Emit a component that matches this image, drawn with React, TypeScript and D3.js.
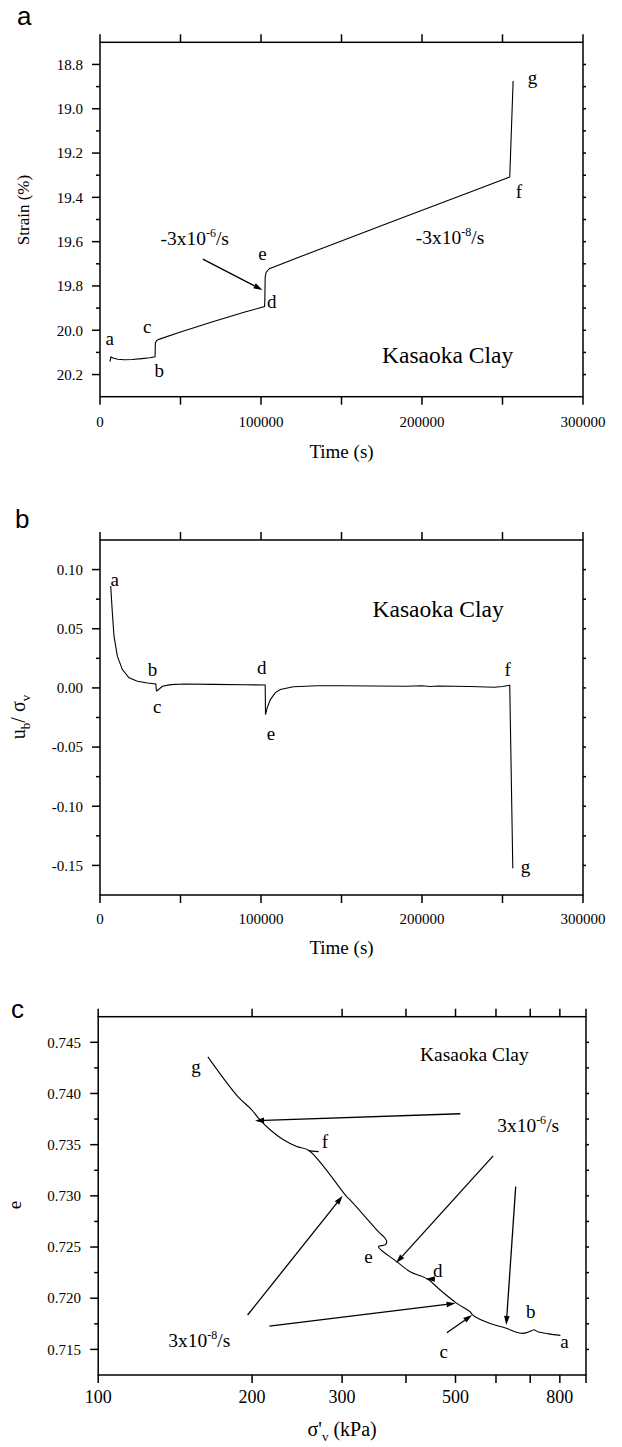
import React from 'react';
import * as d3 from 'd3';

// ---------------- Panel a: strain vs time ----------------
const strainTime = [6200, 6800, 8000, 11000, 15000, 20000, 26000, 31000, 34200, 34400, 35200, 37000, 50000, 70000, 90000, 102200, 102350, 102600, 103200, 105200, 130000, 180000, 230000, 254500, 256600];
const strainValue = [20.142, 20.12, 20.125, 20.131, 20.133, 20.132, 20.128, 20.124, 20.12, 20.058, 20.046, 20.04, 20.008, 19.962, 19.918, 19.893, 19.87, 19.76, 19.738, 19.722, 19.652, 19.514, 19.376, 19.308, 18.875];
const timeMajor = [0, 100000, 200000, 300000];
const timeMinor = [50000, 150000, 250000];
const strainMajor = [18.8, 19.0, 19.2, 19.4, 19.6, 19.8, 20.0, 20.2];
const strainMinor = [18.9, 19.1, 19.3, 19.5, 19.7, 19.9, 20.1];
const strainPointLabels: [string, number, number][] = [
  ['a', 5960, 20.036], ['b', 36770, 20.183], ['c', 29380, 19.984], ['d', 106650, 19.871],
  ['e', 100930, 19.652], ['f', 260120, 19.373], ['g', 268700, 18.86],
];

// ---------------- Panel b: pore pressure ratio vs time ----------------
const poreTime = [6660, 7660, 8700, 10770, 13900, 18050, 23200, 29440, 34650, 35000, 35300, 38770, 43950, 52300, 70000, 90000, 102600, 102800, 103900, 105800, 108900, 112000, 120100, 134900, 150000, 170000, 190000, 200000, 205000, 210000, 230000, 245000, 250000, 254500, 256400];
const poreValue = [0.0861, 0.0636, 0.0437, 0.0268, 0.0155, 0.0085, 0.0056, 0.0042, 0.0034, -0.002, -0.0025, 0.0014, 0.0028, 0.0033, 0.003, 0.0027, 0.0025, -0.0226, -0.0167, -0.0099, -0.004, -0.0014, 0.001, 0.0018, 0.0018, 0.0016, 0.0014, 0.0018, 0.0012, 0.0016, 0.0012, 0.0006, 0.0012, 0.0022, -0.1525];
const poreMajor = [0.1, 0.05, 0, -0.05, -0.1, -0.15];
const poreMinor = [0.075, 0.025, -0.025, -0.075, -0.125];
const porePointLabels: [string, number, number][] = [
  ['a', 9210, 0.0918], ['b', 32680, 0.0155], ['c', 35600, -0.0156], ['d', 100460, 0.0178],
  ['e', 106120, -0.0381], ['f', 253260, 0.0155], ['g', 264340, -0.1506],
];

// ---------------- Panel c: void ratio vs effective stress ----------------
const stressC = [802, 760, 725, 712, 706, 690, 677, 655, 630.6, 584.4, 545, 538.2, 534.1, 502.9, 466.7, 441.5, 407.6, 383.8, 353.3, 364.1, 366.9, 364.1, 353.3, 311, 306.2, 258.4, 244.6, 230.3, 216.9, 205.8, 199.7, 187.4, 163.9];
const voidC = [0.71637, 0.71652, 0.71672, 0.71692, 0.71685, 0.71665, 0.71657, 0.7167, 0.71705, 0.71754, 0.71822, 0.71845, 0.71868, 0.7195, 0.7208, 0.72185, 0.72259, 0.72357, 0.72504, 0.72521, 0.72553, 0.72586, 0.72651, 0.72961, 0.72993, 0.73443, 0.73482, 0.73548, 0.73646, 0.7376, 0.73841, 0.73972, 0.74357];
const stressMajor = [100, 200, 300, 400, 500, 600, 700, 800, 900];
const stressLabelled = [100, 200, 300, 500, 800];
const voidMajor = [0.715, 0.72, 0.725, 0.73, 0.735, 0.74, 0.745];
const voidMinor = [0.7175, 0.7225, 0.7275, 0.7325, 0.7375, 0.7425];
const voidPointLabels: [string, number, number][] = [
  ['a', 816.9, 0.71574], ['b', 701.8, 0.71868], ['c', 474.1, 0.71477], ['d', 461.6, 0.72276],
  ['e', 337.8, 0.72406], ['f', 277.5, 0.73531], ['g', 155.4, 0.74265],
];
// arrows in data units: [x1, y1, x2, y2] (tip at x2,y2)
const voidArrows: [number, number, number, number][] = [
  [510.9, 0.73802, 202.7, 0.73734],
  [592.4, 0.73391, 382.6, 0.72344],
  [655.7, 0.7309, 628.4, 0.71738],
  [196.0, 0.71836, 300.7, 0.73],
  [216.2, 0.71728, 500.0, 0.7195],
  [480.8, 0.71662, 538.9, 0.71836],
  [449.0, 0.72188, 437.4, 0.72188],
];
const voidTicksMarks: [number, number, number, number][] = [
  [258.4, 0.7344, 270, 0.73432],
];

const serif = '"Liberation Serif", "Times New Roman", serif';
const sans = '"Liberation Sans", Arial, sans-serif';

const xA = d3.scaleLinear().domain([0, 300000]).range([100, 583]);
const yA = d3.scaleLinear().domain([18.7, 20.3]).range([42.3, 396.7]);
const xB = d3.scaleLinear().domain([0, 300000]).range([100, 583]);
const yB = d3.scaleLinear().domain([0.125, -0.175]).range([540, 895]);
const xC = d3.scaleLog().domain([100, 900]).range([98.2, 586]);
const yC = d3.scaleLinear().domain([0.7475, 0.7125]).range([1016.7, 1375]);

function Arrow({ x1, y1, x2, y2, len = 9, half = 2.8 }: any) {
  const ang = Math.atan2(y2 - y1, x2 - x1);
  const bx = x2 - len * Math.cos(ang);
  const by = y2 - len * Math.sin(ang);
  const px = -Math.sin(ang) * half;
  const py = Math.cos(ang) * half;
  return (
    <g>
      <line x1={x1} y1={y1} x2={bx} y2={by} stroke="#000" strokeWidth={1.3} />
      <path d={`M${x2},${y2}L${bx + px},${by + py}L${bx - px},${by - py}Z`} fill="#000" />
    </g>
  );
}

function Axes({ xs, ys, xMajor, xMinor, xLabelled, xFmt, yMajor, yMinor, yFmt, xLabelY, yLabelX, xFont, yFont }: any) {
  const [x0, x1] = xs.range();
  const [y0, y1] = ys.range();
  const top = Math.min(y0, y1), bottom = Math.max(y0, y1);
  const left = x0, right = x1;
  const allX = [...xMajor, ...xMinor];
  const allY = [...yMajor, ...yMinor];
  return (
    <g stroke="#000" strokeWidth={1.5}>
      <rect x={left} y={top} width={right - left} height={bottom - top} fill="none" />
      {allX.map((v: number, i: number) => (
        <g key={'x' + i}>
          <line x1={xs(v)} x2={xs(v)} y1={top} y2={top - 8} />
          <line x1={xs(v)} x2={xs(v)} y1={bottom} y2={bottom + 8} />
        </g>
      ))}
      {yMajor.map((v: number, i: number) => (
        <line key={'ym' + i} x1={left} x2={left - 8} y1={ys(v)} y2={ys(v)} />
      ))}
      {yMinor.map((v: number, i: number) => (
        <line key={'yn' + i} x1={left} x2={left - 4} y1={ys(v)} y2={ys(v)} />
      ))}
      {allY.map((v: number, i: number) => (
        <line key={'yr' + i} x1={right} x2={right + 3} y1={ys(v)} y2={ys(v)} />
      ))}
      <g stroke="none" fill="#000" fontFamily={serif}>
        {xLabelled.map((v: number, i: number) => (
          <text key={'xl' + i} x={xs(v)} y={xLabelY} textAnchor="middle" fontSize={xFont}>{xFmt(v)}</text>
        ))}
        {yMajor.map((v: number, i: number) => (
          <text key={'yl' + i} x={yLabelX} y={ys(v)} dy="0.35em" textAnchor="end" fontSize={yFont}>{yFmt(v)}</text>
        ))}
      </g>
    </g>
  );
}

function PointLabels({ items, xs, ys, size }: any) {
  return (
    <g fontFamily={serif} fontSize={size} fill="#000">
      {items.map(([t, x, y]: any, i: number) => (
        <text key={i} x={xs(x)} y={ys(y)} dy="0.35em" textAnchor="middle">{t}</text>
      ))}
    </g>
  );
}

export default function App() {
  const lineA = d3.line<number>().x((_, i) => xA(strainTime[i])).y((d) => yA(d));
  const lineB = d3.line<number>().x((_, i) => xB(poreTime[i])).y((d) => yB(d));
  const lineC = d3.line<number>().x((_, i) => xC(stressC[i])).y((d) => yC(d)).curve(d3.curveCatmullRom.alpha(0.5));
  const fmtPore = (v: number) => (Math.abs(v) < 1e-9 ? '0.00' : v.toFixed(2));
  const midA = (xA.range()[0] + xA.range()[1]) / 2;
  const midC = (xC.range()[0] + xC.range()[1]) / 2;

  return (
    <svg width={622} height={1447} style={{ position: 'absolute', left: 0, top: 0, background: '#fff' }}>
      <rect x={0} y={0} width={622} height={1447} fill="#fff" />

      {/* ---------- Panel a ---------- */}
      <text x={17} y={25} fontFamily={sans} fontSize={26}>a</text>
      <Axes xs={xA} ys={yA} xMajor={timeMajor} xMinor={timeMinor} xLabelled={timeMajor} xFmt={(v: number) => String(v)}
        yMajor={strainMajor} yMinor={strainMinor} yFmt={(v: number) => v.toFixed(1)} xLabelY={427} yLabelX={83} xFont={15} yFont={15} />
      <path d={lineA(strainValue) || ''} fill="none" stroke="#000" strokeWidth={1.1} />
      <PointLabels items={strainPointLabels} xs={xA} ys={yA} size={19} />
      <text x={xA(37520)} y={yA(19.614)} fontFamily={serif} fontSize={19.5}>-3x10<tspan fontSize={12} dy={-8}>-6</tspan><tspan dy={8}>/s</tspan></text>
      <text x={xA(196150)} y={yA(19.609)} fontFamily={serif} fontSize={19.5}>-3x10<tspan fontSize={12} dy={-8}>-8</tspan><tspan dy={8}>/s</tspan></text>
      <Arrow x1={xA(63850)} y1={yA(19.679)} x2={xA(100930)} y2={yA(19.818)} />
      <text x={xA(175160)} y={yA(20.148)} fontFamily={serif} fontSize={23.5}>Kasaoka Clay</text>
      <text transform={`translate(29,210) rotate(-90)`} textAnchor="middle" fontFamily={serif} fontSize={17}>Strain  (%)</text>
      <text x={midA} y={458} textAnchor="middle" fontFamily={serif} fontSize={19}>Time (s)</text>

      {/* ---------- Panel b ---------- */}
      <text x={15} y={528} fontFamily={sans} fontSize={26}>b</text>
      <Axes xs={xB} ys={yB} xMajor={timeMajor} xMinor={timeMinor} xLabelled={timeMajor} xFmt={(v: number) => String(v)}
        yMajor={poreMajor} yMinor={poreMinor} yFmt={fmtPore} xLabelY={924} yLabelX={83} xFont={15} yFont={15} />
      <path d={lineB(poreValue) || ''} fill="none" stroke="#000" strokeWidth={1.1} />
      <PointLabels items={porePointLabels} xs={xB} ys={yB} size={19} />
      <text x={xB(169300)} y={yB(0.0596)} fontFamily={serif} fontSize={23.5}>Kasaoka Clay</text>
      <text transform={`translate(25,717) rotate(-90)`} textAnchor="middle" fontFamily={serif} fontSize={20}>
        u<tspan fontSize={13} dy={5}>b</tspan><tspan dy={-5}>/ σ</tspan><tspan fontSize={13} dy={5}>v</tspan>
      </text>
      <text x={midA} y={954} textAnchor="middle" fontFamily={serif} fontSize={19}>Time (s)</text>

      {/* ---------- Panel c ---------- */}
      <text x={11} y={1018} fontFamily={sans} fontSize={26}>c</text>
      <Axes xs={xC} ys={yC} xMajor={stressMajor} xMinor={[]} xLabelled={stressLabelled} xFmt={(v: number) => String(v)}
        yMajor={voidMajor} yMinor={voidMinor} yFmt={(v: number) => v.toFixed(3)} xLabelY={1403} yLabelX={81} xFont={18} yFont={15} />
      <path d={lineC(voidC) || ''} fill="none" stroke="#000" strokeWidth={1.1} />
      {voidTicksMarks.map(([a, b, c, d], i) => (
        <line key={i} x1={xC(a)} y1={yC(b)} x2={xC(c)} y2={yC(d)} stroke="#000" strokeWidth={1.3} />
      ))}
      {voidArrows.map(([a, b, c, d], i) => (
        <Arrow key={i} x1={xC(a)} y1={yC(b)} x2={xC(c)} y2={yC(d)} />
      ))}
      <PointLabels items={voidPointLabels} xs={xC} ys={yC} size={19} />
      <text x={xC(426)} y={yC(0.74321)} fontFamily={serif} fontSize={19.5}>Kasaoka Clay</text>
      <text x={xC(603.1)} y={yC(0.73619)} fontFamily={serif} fontSize={19.5}>3x10<tspan fontSize={12} dy={-8}>-6</tspan><tspan dy={8}>/s</tspan></text>
      <text x={xC(137.1)} y={yC(0.71525)} fontFamily={serif} fontSize={19.5}>3x10<tspan fontSize={12} dy={-8}>-8</tspan><tspan dy={8}>/s</tspan></text>
      <text transform={`translate(21,1205) rotate(-90)`} textAnchor="middle" fontFamily={serif} fontSize={19}>e</text>
      <text x={midC} y={1436} textAnchor="middle" fontFamily={serif} fontSize={20}>
        σ'<tspan fontSize={13} dy={5}>v</tspan><tspan dy={-5}> (kPa)</tspan>
      </text>
    </svg>
  );
}
